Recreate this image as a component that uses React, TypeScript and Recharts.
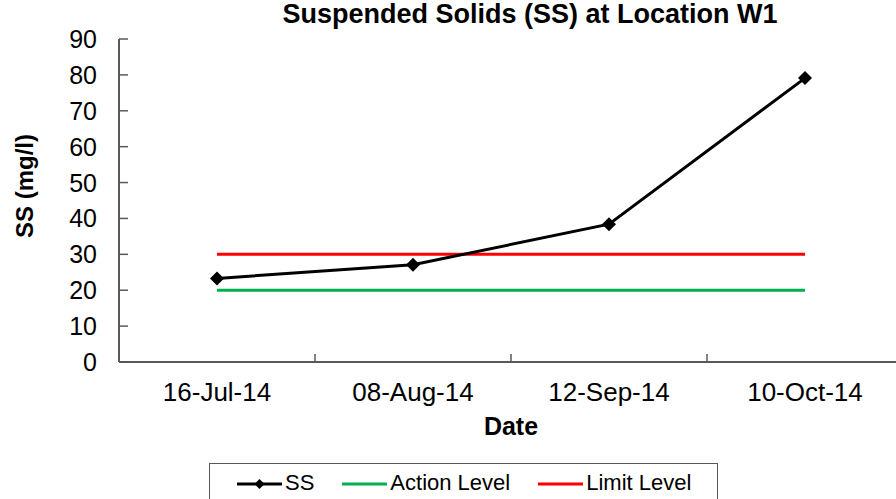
import React from "react";
import { LineChart, Line, XAxis, YAxis } from "recharts";

const dates = ["16-Jul-14", "08-Aug-14", "12-Sep-14", "10-Oct-14"];
const ssValues = [23.3, 27.1, 38.4, 79.1];
const actionLevel = [20, 20, 20, 20];
const limitLevel = [30, 30, 30, 30];
const yTicks = [0, 10, 20, 30, 40, 50, 60, 70, 80, 90];

const FONT = "'Liberation Sans', Arial, sans-serif";
const AXIS = "#595959";

const data = dates.map((d, i) => ({
  date: d,
  ss: ssValues[i],
  action: actionLevel[i],
  limit: limitLevel[i],
}));

function Diamond(props: any) {
  const { cx, cy } = props;
  if (cx == null || cy == null) return null;
  const r = 7;
  return (
    <path
      d={`M${cx},${cy - r} L${cx + r},${cy} L${cx},${cy + r} L${cx - r},${cy} Z`}
      fill="#000"
    />
  );
}

function XTick(props: any) {
  const { x, y, payload, index, width } = props;
  const half = payload.offset ?? width / dates.length / 2;
  return (
    <g>
      <line x1={x - half} x2={x - half} y1={y - 8} y2={y} stroke={AXIS} strokeWidth={1.5} />
      {index === dates.length - 1 && (
        <line x1={x + half} x2={x + half} y1={y - 8} y2={y} stroke={AXIS} strokeWidth={1.5} />
      )}
      <text x={x} y={y + 39} textAnchor="middle" fontFamily={FONT} fontSize={26} fill="#000">
        {payload.value}
      </text>
    </g>
  );
}

function YTick(props: any) {
  const { x, y, payload } = props;
  return (
    <g>
      <line x1={x} x2={x + 9} y1={y} y2={y} stroke={AXIS} strokeWidth={1.5} />
      <text x={x - 22} y={y} dy="0.36em" textAnchor="end" fontFamily={FONT} fontSize={25} fill="#000">
        {payload.value}
      </text>
    </g>
  );
}

const legendItems = [
  { name: "SS", color: "#000", marker: true },
  { name: "Action Level", color: "#00B050", marker: false },
  { name: "Limit Level", color: "#FF0000", marker: false },
];

export default function App() {
  return (
    <div
      style={{
        position: "absolute",
        left: 0,
        top: 0,
        width: 896,
        height: 499,
        overflow: "hidden",
        background: "#fff",
      }}
    >
      <LineChart width={910} height={499} data={data} margin={{ top: 39, right: 7, bottom: 97, left: 59 }}>
        <XAxis
          dataKey="date"
          scale="band"
          height={40}
          tickLine={false}
          tickSize={0}
          tickMargin={0}
          axisLine={{ stroke: AXIS, strokeWidth: 2 }}
          tick={<XTick />}
          interval={0}
        />
        <YAxis
          width={60}
          domain={[0, 90]}
          ticks={yTicks}
          interval={0}
          tickLine={false}
          tickSize={0}
          tickMargin={0}
          axisLine={{ stroke: AXIS, strokeWidth: 2 }}
          tick={<YTick />}
        />
        <Line dataKey="action" stroke="#00B050" strokeWidth={3} dot={false} isAnimationActive={false} />
        <Line dataKey="limit" stroke="#FF0000" strokeWidth={3} dot={false} isAnimationActive={false} />
        <Line dataKey="ss" stroke="#000" strokeWidth={3} dot={<Diamond />} activeDot={false} isAnimationActive={false} />
      </LineChart>

      <svg
        width={896}
        height={499}
        style={{ position: "absolute", left: 0, top: 0, pointerEvents: "none" }}
      >
        <text x={530} y={23} textAnchor="middle" fontFamily={FONT} fontSize={27} fontWeight="bold">
          Suspended Solids (SS) at Location W1
        </text>
        <text x={511} y={435} textAnchor="middle" fontFamily={FONT} fontSize={25} fontWeight="bold">
          Date
        </text>
        <text
          transform="translate(33,186) rotate(-90)"
          textAnchor="middle"
          fontFamily={FONT}
          fontSize={24}
          fontWeight="bold"
        >
          SS (mg/l)
        </text>
      </svg>

      <div
        style={{
          position: "absolute",
          left: 209,
          top: 463,
          width: 509,
          height: 60,
          boxSizing: "border-box",
          border: `1px solid ${AXIS}`,
          fontFamily: FONT,
          fontSize: 22,
          display: "flex",
          alignItems: "flex-start",
          paddingLeft: 27,
          paddingTop: 4,
          whiteSpace: "nowrap",
        }}
      >
        {legendItems.map((it) => (
          <div key={it.name} style={{ display: "flex", alignItems: "center", marginRight: 28, flexShrink: 0 }}>
            <svg width={45} height={30} style={{ flexShrink: 0 }}>
              <line x1={0} x2={45} y1={16} y2={16} stroke={it.color} strokeWidth={3} />
              {it.marker && <path d="M22.5,11 L27.5,16 L22.5,21 L17.5,16 Z" fill="#000" />}
            </svg>
            <span style={{ marginLeft: 3, lineHeight: "30px" }}>{it.name}</span>
          </div>
        ))}
      </div>
    </div>
  );
}
